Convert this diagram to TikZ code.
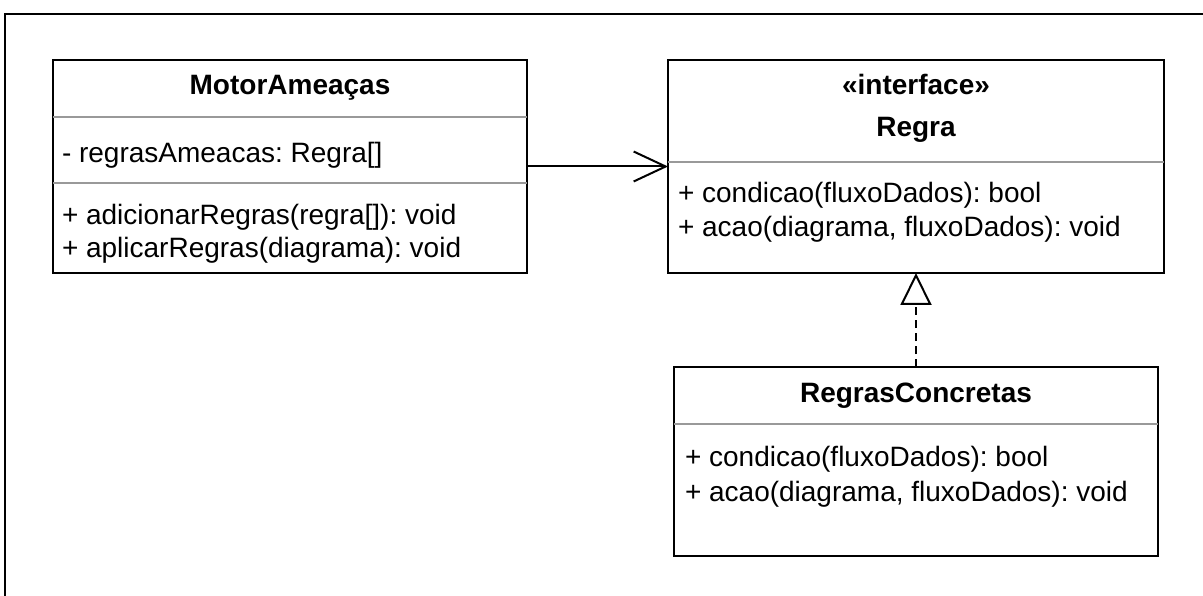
\documentclass[tikz,border=0pt]{standalone}
\usepackage{fontspec}
\setmainfont{Liberation Sans}
\usetikzlibrary{arrows.meta}
\frenchspacing

\begin{document}
\begin{tikzpicture}[x=1pt, y=-1pt, line width=2pt,
      every node/.append style={inner sep=0pt,outer sep=0pt,font=\fontsize{28}{34}\selectfont},
      box/.style={draw=black,rectangle,minimum width=#1},
      sep/.style={draw=black!40},
      member/.style={anchor=base west},
      title/.style={anchor=base,font=\fontsize{28}{34}\selectfont\bfseries}]
    \useasboundingbox (0,0) rectangle (1203,596);
    \draw (5,596) -- (5,14) -- (1203,14);
    \node (motor) [box=474, minimum height=213] at (290,166.5) {};
    \node (regra) [box=496, minimum height=213] at (916,166.5) {};
    \node (concretas) [box=484, minimum height=189] at (916,461.5) {};
    \node (motortitle) [title] at (290,95) {MotorAmeaças};
    \node (motorattr) [member] at (62,163) {- regrasAmeacas: Regra[]};
    \node (motorop1) [member] at (62,225) {+ adicionarRegras(regra[]): void};
    \node (motorop2) [member] at (62,258) {+ aplicarRegras(diagrama): void};
    \draw [sep] ([yshift=-57pt]motor.north west) -- ([yshift=-57pt]motor.north east);
    \draw [sep] ([yshift=-123pt]motor.north west) -- ([yshift=-123pt]motor.north east);
    \node (stereo) [title] at (916,95) {«interface»};
    \node (regratitle) [title] at (916,137) {Regra};
    \node (regraop1) [member] at (678,203) {+ condicao(fluxoDados): bool};
    \node (regraop2) [member] at (678,237) {+ acao(diagrama, fluxoDados): void};
    \draw [sep] ([yshift=-102pt]regra.north west) -- ([yshift=-102pt]regra.north east);
    \node (concretastitle) [title] at (916,402) {RegrasConcretas};
    \node (concretasop1) [member] at (685,466) {+ condicao(fluxoDados): bool};
    \node (concretasop2) [member] at (685,501) {+ acao(diagrama, fluxoDados): void};
    \draw [sep] ([yshift=-57pt]concretas.north west) -- ([yshift=-57pt]concretas.north east);
    \draw [-{Straight Barb[length=32pt,width=30pt,line width=2pt]}] (motor.east) -- (regra.west);
    \draw [dash pattern=on 8pt off 5pt, -{Triangle[open,length=32pt,width=31pt,line width=2pt]}]
      (concretas.north) -- (regra.south);
  \end{tikzpicture}
\end{document}
